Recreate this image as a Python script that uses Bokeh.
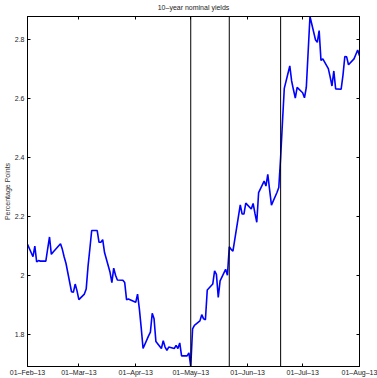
import datetime as dt

import pandas as pd
from bokeh.embed import file_html
from bokeh.models import (CustomLabelingPolicy, DatetimeAxis,
                          DatetimeTickFormatter, FixedTicker, LinearAxis,
                          NumeralTickFormatter, Span)
from bokeh.plotting import figure
from bokeh.resources import INLINE

# 10-year nominal yield, daily observations (percentage points)
dates = [
    "2013-02-01", "2013-02-04", "2013-02-05", "2013-02-06", "2013-02-07", "2013-02-08",
    "2013-02-11", "2013-02-12", "2013-02-13", "2013-02-14", "2013-02-15",
    "2013-02-19", "2013-02-20", "2013-02-21", "2013-02-22",
    "2013-02-25", "2013-02-26", "2013-02-27", "2013-02-28", "2013-03-01",
    "2013-03-04", "2013-03-05", "2013-03-06", "2013-03-07", "2013-03-08",
    "2013-03-11", "2013-03-12", "2013-03-13", "2013-03-14", "2013-03-15",
    "2013-03-18", "2013-03-19", "2013-03-20", "2013-03-21", "2013-03-22",
    "2013-03-25", "2013-03-26", "2013-03-27", "2013-03-28",
    "2013-04-01", "2013-04-02", "2013-04-03", "2013-04-04", "2013-04-05",
    "2013-04-08", "2013-04-09", "2013-04-10", "2013-04-11", "2013-04-12",
    "2013-04-15", "2013-04-16", "2013-04-17", "2013-04-18", "2013-04-19",
    "2013-04-22", "2013-04-23", "2013-04-24", "2013-04-25", "2013-04-26",
    "2013-04-29", "2013-04-30", "2013-05-01", "2013-05-02", "2013-05-03",
    "2013-05-06", "2013-05-07", "2013-05-08", "2013-05-09", "2013-05-10",
    "2013-05-13", "2013-05-14", "2013-05-15", "2013-05-16", "2013-05-17",
    "2013-05-20", "2013-05-21", "2013-05-22", "2013-05-23", "2013-05-24",
    "2013-05-28", "2013-05-29", "2013-05-30", "2013-05-31",
    "2013-06-03", "2013-06-04", "2013-06-05", "2013-06-06", "2013-06-07",
    "2013-06-10", "2013-06-11", "2013-06-12", "2013-06-13", "2013-06-14",
    "2013-06-17", "2013-06-18", "2013-06-19", "2013-06-20", "2013-06-21",
    "2013-06-24", "2013-06-25", "2013-06-26", "2013-06-27", "2013-06-28",
    "2013-07-01", "2013-07-02", "2013-07-03", "2013-07-05",
    "2013-07-08", "2013-07-09", "2013-07-10", "2013-07-11", "2013-07-12",
    "2013-07-15", "2013-07-16", "2013-07-17", "2013-07-18", "2013-07-19",
    "2013-07-22", "2013-07-23", "2013-07-24", "2013-07-25", "2013-07-26",
    "2013-07-29", "2013-07-30", "2013-07-31", "2013-08-01",
]
yields = [
    2.105, 2.063, 2.099, 2.045, 2.050, 2.048,
    2.048, 2.090, 2.130, 2.071, 2.079,
    2.107, 2.088, 2.062, 2.040,
    1.944, 1.942, 1.970, 1.947, 1.917,
    1.936, 1.953, 2.030, 2.090, 2.152,
    2.152, 2.112, 2.112, 2.121, 2.077,
    2.010, 1.975, 2.024, 2.000, 1.984,
    1.983, 1.975, 1.917, 1.919,
    1.908, 1.936, 1.885, 1.821, 1.751,
    1.794, 1.807, 1.871, 1.852, 1.775,
    1.751, 1.778, 1.756, 1.745, 1.756,
    1.751, 1.762, 1.751, 1.770, 1.726,
    1.726, 1.736, 1.690, 1.818, 1.830,
    1.845, 1.866, 1.852, 1.849, 1.950,
    1.970, 2.015, 2.003, 1.925, 1.981,
    2.020, 2.000, 2.097, 2.088, 2.082,
    2.239, 2.208, 2.208, 2.245,
    2.225, 2.244, 2.210, 2.180, 2.281,
    2.320, 2.303, 2.343, 2.290, 2.238,
    2.281, 2.298, 2.400, 2.520, 2.635,
    2.711, 2.660, 2.630, 2.602, 2.638,
    2.620, 2.603, 2.638, 2.879,
    2.800, 2.791, 2.831, 2.730, 2.735,
    2.702, 2.674, 2.643, 2.694, 2.633,
    2.632, 2.680, 2.743, 2.742, 2.715,
    2.735, 2.750, 2.765, 2.746,
]

# Policy-event dates marked with vertical rules
event_dates = ["2013-05-01", "2013-05-22", "2013-06-19"]

# Axis ticks
x_tick_dates = ["2013-02-01", "2013-03-01", "2013-04-01", "2013-05-01",
                "2013-06-01", "2013-07-01", "2013-08-01"]
y_ticks = [1.8, 2.0, 2.2, 2.4, 2.6, 2.8]

FONT = "Liberation Sans"
EPOCH = dt.datetime(1970, 1, 1)


def to_ms(s):
    return (dt.datetime.strptime(s, "%Y-%m-%d") - EPOCH).total_seconds() * 1000.0


x = pd.to_datetime(dates)
x_ticks_ms = [to_ms(d) for d in x_tick_dates]

p = figure(
    width=377, height=378,
    x_axis_type="datetime",
    x_range=(x_ticks_ms[0], x_ticks_ms[-1]),
    y_range=(1.69, 2.879),
    title="10–year nominal yields",
    output_backend="svg", toolbar_location=None,
    min_border_left=25, min_border_right=18,
    min_border_top=16, min_border_bottom=10,
)
p.background_fill_color = "white"
p.border_fill_color = "white"
p.outline_line_color = "black"
p.xgrid.grid_line_color = None
p.ygrid.grid_line_color = None

p.title.align = "center"
p.title.text_font = FONT
p.title.text_font_size = "7px"
p.title.text_font_style = "normal"
p.title.text_color = "#222222"
p.title.standoff = 3

x_ticker = FixedTicker(ticks=x_ticks_ms)
y_ticker = FixedTicker(ticks=y_ticks)
fmt = "%d–%b–%y"
x_fmt = DatetimeTickFormatter(
    milliseconds=fmt, seconds=fmt, minsec=fmt, minutes=fmt, hourmin=fmt,
    hours=fmt, days=fmt, months=fmt, years=fmt,
)


def style_axis(ax):
    ax.major_tick_in = 3
    ax.major_tick_out = 0
    ax.minor_tick_in = 0
    ax.minor_tick_out = 0
    ax.axis_line_color = "black"
    ax.major_tick_line_color = "black"
    ax.major_label_text_font = FONT
    ax.major_label_text_font_size = "7px"
    ax.major_label_text_color = "#222222"


xa = p.xaxis[0]
xa.ticker = x_ticker
xa.formatter = x_fmt
xa.major_label_standoff = 2
style_axis(xa)

ya = p.yaxis[0]
ya.ticker = y_ticker
ya.formatter = NumeralTickFormatter(format="0.[0]")
ya.major_label_standoff = 3
ya.axis_label = "Percentage Points"
ya.axis_label_text_font = FONT
ya.axis_label_text_font_size = "7px"
ya.axis_label_text_font_style = "normal"
ya.axis_label_text_color = "#333333"
ya.axis_label_standoff = 1
style_axis(ya)

# Box ticks on the opposite sides; their labels are all dropped
no_labels = CustomLabelingPolicy(code="""
    for (const i of indices)
        indices.unset(i)
    return indices
""")

top = DatetimeAxis(ticker=x_ticker, formatter=x_fmt)
style_axis(top)
top.major_label_policy = no_labels
top.major_label_text_font_size = "1px"
top.major_label_standoff = 0
p.add_layout(top, "above")

right = LinearAxis(ticker=y_ticker)
style_axis(right)
right.major_label_policy = no_labels
right.major_label_text_font_size = "1px"
right.major_label_standoff = 0
p.add_layout(right, "right")

for d in event_dates:
    p.add_layout(Span(location=to_ms(d), dimension="height",
                      line_color="black", line_width=1))

p.line(x, yields, line_color="#0000ff", line_width=1.6)

open("out.html", "w").write(file_html(p, INLINE))
